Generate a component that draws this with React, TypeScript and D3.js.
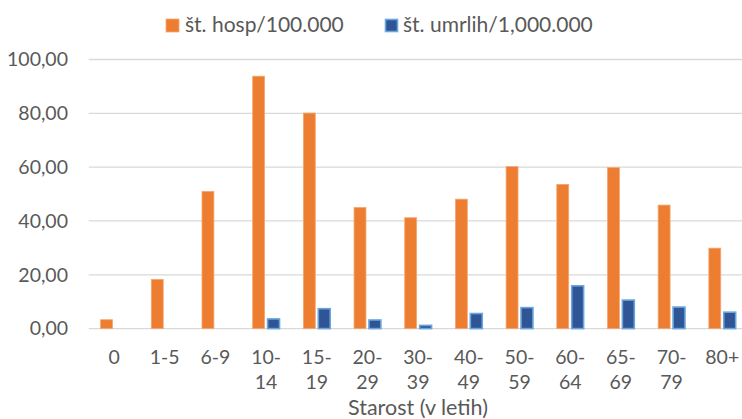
import React from "react";
import * as d3 from "d3";

const categories = ["0", "1-5", "6-9", "10-14", "15-19", "20-29", "30-39", "40-49", "50-59", "60-64", "65-69", "70-79", "80+"];
const hospValues = [3.3, 18.3, 51.0, 93.8, 80.1, 45.0, 41.2, 48.1, 60.2, 53.6, 59.8, 45.9, 29.9];
const deathValues = [0, 0, 0, 3.6, 7.4, 3.2, 1.2, 5.6, 7.8, 15.9, 10.6, 8.0, 6.1];
const yTicks = [0, 20, 40, 60, 80, 100];
const seriesNames = ["št. hosp/100.000", "št. umrlih/1,000.000"];
const axisTitle = "Starost (v letih)";

const W = 742;
const H = 419;
const FONT = "Lato, 'Open Sans', sans-serif";
const TEXT = "#595959";

export default function App() {
  const x0 = d3.scaleBand<string>().domain(categories).range([88.7, 747.6]).padding(0);
  const bw = x0.bandwidth();
  const x1 = d3
    .scaleBand<string>()
    .domain(["hosp", "death"])
    .range([bw * 0.235, bw * 0.765])
    .paddingInner(0.2);
  const y = d3.scaleLinear().domain([0, 100]).range([328.6, 59.5]);
  const fmt = (v: number) => d3.format(".2f")(v).replace(".", ",");

  return (
    <svg width={W} height={H} style={{ position: "absolute", left: 0, top: 0, background: "#fff" }} fontFamily={FONT}>
      <rect x={0} y={0} width={W} height={H} fill="#fff" />
      {/* gridlines */}
      {yTicks.map((t) => (
        <line key={t} x1={88.7} x2={W} y1={y(t)} y2={y(t)} stroke="#d9d9d9" strokeWidth={1.3} />
      ))}
      {/* y labels */}
      {yTicks.map((t) => (
        <text key={"l" + t} x={68} y={y(t)} dy="0.35em" textAnchor="end" fontSize={19.5} fill={TEXT}>
          {fmt(t)}
        </text>
      ))}
      {/* bars */}
      {categories.map((c, i) => {
        const gx = x0(c)!;
        const hv = hospValues[i];
        const dv = deathValues[i];
        return (
          <g key={c} transform={`translate(${gx},0)`}>
            <rect
              x={x1("hosp")}
              y={y(hv)}
              width={x1.bandwidth()}
              height={y(0) - y(hv)}
              fill="#ed7d31"
              stroke="#f4a872"
              strokeWidth={0.8}
            />
            {dv > 0 && (
              <rect
                x={x1("death")}
                y={y(dv)}
                width={x1.bandwidth()}
                height={y(0) - y(dv)}
                fill="#2f5597"
                stroke="#6aa6dc"
                strokeWidth={1.6}
              />
            )}
          </g>
        );
      })}
      {/* x labels */}
      {categories.map((c) => {
        const cx = x0(c)! + bw / 2;
        const parts = c.includes("-") && c.split("-")[0].length === 2 ? [c.split("-")[0] + "-", c.split("-")[1]] : [c];
        return (
          <text key={"x" + c} x={cx} textAnchor="middle" fontSize={19.5} fill={TEXT}>
            {parts.map((p, j) => (
              <tspan key={j} x={cx} y={364 + j * 25}>
                {p}
              </tspan>
            ))}
          </text>
        );
      })}
      <text x={418} y={414.5} textAnchor="middle" fontSize={21.5} fill={TEXT}>
        {axisTitle}
      </text>
      {/* legend */}
      <rect x={166} y={19} width={13} height={13} fill="#ed7d31" stroke="#f4a872" strokeWidth={0.8} />
      <text x={185} y={32} fontSize={21} fill={TEXT}>
        {seriesNames[0]}
      </text>
      <rect x={385.5} y={19.5} width={12} height={12} fill="#2f5597" stroke="#6aa6dc" strokeWidth={1.6} />
      <text x={403} y={32} fontSize={21} fill={TEXT}>
        {seriesNames[1]}
      </text>
    </svg>
  );
}
